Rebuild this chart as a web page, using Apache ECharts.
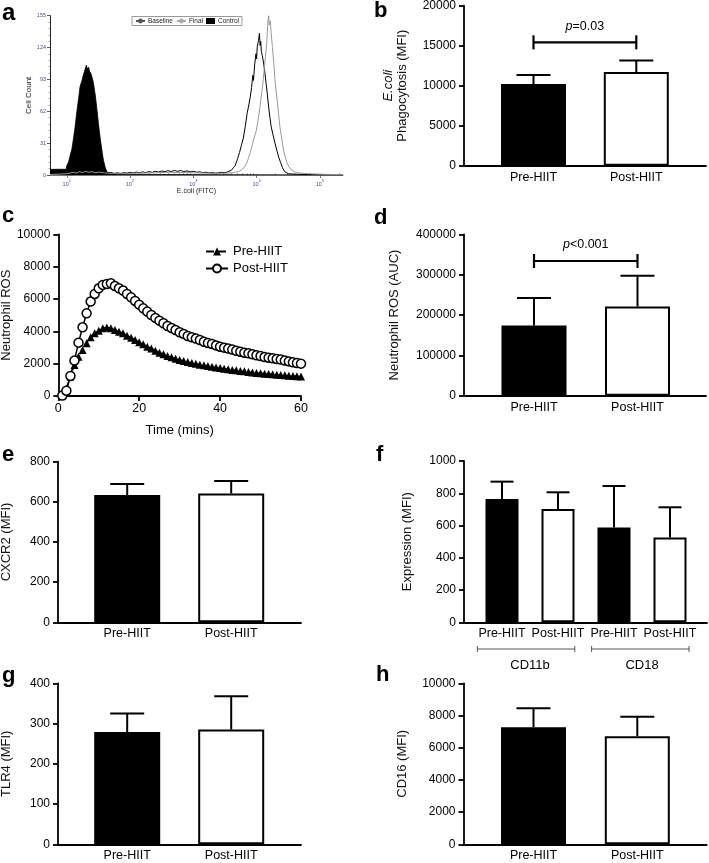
<!DOCTYPE html>
<html><head><meta charset="utf-8">
<script src="https://cdn.jsdelivr.net/npm/echarts@6/dist/echarts.min.js"></script>
<style>html,body{margin:0;padding:0;background:#fff}#c{width:709px;height:863px}</style>
</head><body><div id="c"></div>
<script>
// ================= DATA =================
const panelLetters = ['a','b','c','d','e','f','g','h'];

// (a) flow cytometry histogram: x = log10(E.coli FITC), y = cell count
const histLegend = ['Baseline','Final','Control'];
const histYTicks = [0,31,62,93,124,155];
const histXTickExps = [1,2,3,4,5];
const controlHist = [[0.735,5.5],[0.8,5.5],[0.9,5.6],[0.99,5.5],[1.0,9],[1.03,13],[1.05,18],[1.08,25],[1.1,33],[1.13,46],[1.16,62],[1.19,76],[1.21,86],[1.24,92],[1.265,98],[1.29,103],[1.31,107],[1.325,103],[1.345,105],[1.36,101],[1.38,99],[1.4,95],[1.42,90],[1.45,78],[1.48,62],[1.5,50],[1.53,35],[1.56,22],[1.58,14],[1.61,7],[1.635,3],[1.69,1.2],[1.8,0.8],[2.5,0.5],[3.5,0.3],[5.365,0]];
const baselineHist = [[0.735,0.5],[1.0,1],[1.2,1.5],[1.4,1.8],[1.6,2],[1.7,2.5],[1.75,1.5],[1.8,2.2],[1.85,1.4],[1.9,2.4],[1.95,1.8],[2.0,2.6],[2.05,1.9],[2.1,2.8],[2.15,2.2],[2.2,3.0],[2.25,2.4],[2.3,3.3],[2.35,2.6],[2.4,3.6],[2.45,2.9],[2.5,3.9],[2.55,3.2],[2.6,4.2],[2.65,3.4],[2.7,4.4],[2.75,3.6],[2.8,4.3],[2.85,3.4],[2.9,4.0],[2.95,3.0],[3.0,3.6],[3.05,2.7],[3.1,3.1],[3.15,2.3],[3.2,2.7],[3.25,2.0],[3.3,2.4],[3.35,1.8],[3.4,2.2],[3.45,2.6],[3.5,2.2],[3.55,3.2],[3.6,4.5],[3.63,7],[3.66,9],[3.7,16],[3.73,22],[3.76,29],[3.79,36],[3.82,47],[3.85,60],[3.87,66],[3.9,76],[3.92,85],[3.94,97],[3.95,92],[3.97,108],[3.99,118],[4.0,113],[4.01,125],[4.03,131],[4.045,138],[4.055,126],[4.065,130],[4.075,120],[4.09,116],[4.11,109],[4.13,100],[4.15,89],[4.17,78],[4.19,66],[4.21,56],[4.23,47],[4.26,39],[4.29,31],[4.32,24],[4.35,17],[4.38,12],[4.41,7],[4.44,3.5],[4.47,2],[4.5,1.2],[4.6,0.8],[4.8,0.5],[5.0,0.4],[5.365,0.3]];
const finalHist = [[0.735,0.5],[1.0,1.2],[1.1,2.5],[1.15,2],[1.2,3.2],[1.25,2.4],[1.3,3.6],[1.35,2.6],[1.4,3.2],[1.45,2.2],[1.5,2.8],[1.6,2],[1.7,1.6],[1.8,1.8],[2.0,1.6],[2.2,1.9],[2.4,2.2],[2.6,2.6],[2.8,2.4],[3.0,2.2],[3.2,1.8],[3.4,1.6],[3.55,1.8],[3.65,2.5],[3.72,3.5],[3.76,5],[3.8,7],[3.84,11],[3.87,16],[3.9,22],[3.93,29],[3.96,36],[3.99,42],[4.02,52],[4.05,65],[4.08,80],[4.1,90],[4.12,103],[4.14,115],[4.16,128],[4.17,140],[4.18,150],[4.19,155],[4.2,146],[4.215,150],[4.23,138],[4.25,124],[4.27,110],[4.29,93],[4.31,80],[4.33,70],[4.35,57],[4.37,46],[4.39,38],[4.41,30],[4.43,23],[4.45,18],[4.48,12],[4.51,8],[4.55,5],[4.6,3],[4.65,2.4],[4.7,1.8],[4.8,1.4],[4.9,1.0],[5.0,0.8],[5.2,0.5],[5.365,0.3]];

// (b) E.coli phagocytosis
const phagoCats = ['Pre-HIIT','Post-HIIT'];
const phagoMean = [10200, 11700];
const phagoErr = [1150, 1450];
const phagoSig = {from:1, to:2, y:15420, text:'p=0.03'};

// (c) Neutrophil ROS kinetics
const rosTime = [1,2,3,4,5,6,7,8,9,10,11,12,13,14,15,16,17,18,19,20,21,22,23,24,25,26,27,28,29,30,31,32,33,34,35,36,37,38,39,40,41,42,43,44,45,46,47,48,49,50,51,52,53,54,55,56,57,58,59,60];
const rosPre = [50,470,1200,1920,2430,2850,3260,3630,3880,4040,4190,4230,4190,4080,3980,3880,3730,3610,3460,3320,3200,3050,2930,2800,2680,2580,2470,2390,2310,2230,2170,2100,2040,2000,1940,1900,1860,1810,1770,1730,1690,1650,1610,1590,1550,1530,1480,1460,1420,1400,1380,1360,1340,1320,1300,1280,1260,1240,1220,1200];
const rosPost = [30,330,1240,2190,3300,4250,5110,5840,6310,6660,6870,6930,6970,6800,6660,6520,6310,6100,5880,5650,5420,5220,5010,4830,4660,4500,4330,4210,4080,3940,3840,3710,3630,3550,3460,3360,3280,3220,3130,3050,2990,2930,2870,2800,2740,2680,2640,2580,2520,2470,2410,2370,2330,2290,2250,2190,2140,2080,2040,2000];
const rosSeriesNames = ['Pre-HIIT','Post-HIIT'];

// (d) Neutrophil ROS AUC
const aucCats = ['Pre-HIIT','Post-HIIT'];
const aucMean = [174000, 221000];
const aucErr = [68000, 76000];
const aucSig = {from:1, to:2, y:333800, text:'p<0.001'};

// (e) CXCR2
const cxcr2Cats = ['Pre-HIIT','Post-HIIT'];
const cxcr2Mean = [634, 642];
const cxcr2Err = [55, 62];

// (f) CD11b / CD18 expression
const exprCats = ['Pre-HIIT','Post-HIIT','Pre-HIIT','Post-HIIT'];
const exprMean = [764, 702, 587, 525];
const exprErr = [108, 104, 258, 188];
const exprGroups = ['CD11b','CD18'];
const exprGroupSpans = [[0.56, 2.3, 1.5],[2.6, 4.34, 3.5]];

// (g) TLR4
const tlr4Cats = ['Pre-HIIT','Post-HIIT'];
const tlr4Mean = [279, 285];
const tlr4Err = [46, 83];

// (h) CD16
const cd16Cats = ['Pre-HIIT','Post-HIIT'];
const cd16Mean = [7270, 6710];
const cd16Err = [1180, 1220];

// ================= LAYOUT =================
const FONT = 'Liberation Sans, Arial, sans-serif';
const LAY = {
  a:{left:50, right:343, top:15.7, bottom:175},
  b:{left:464, right:706, top:5.7, bottom:165.7, c1:533.5, step:102.8, bw:65, cap:34, nameGap:55},
  c:{left:58.3, right:301, top:234.3, bottom:396, nameGap:45},
  d:{left:464, right:706, top:234.3, bottom:395.7, c1:534, step:103.5, bw:65, cap:34, nameGap:63},
  e:{left:58, right:301, top:461.7, bottom:622.3, c1:127.2, step:104, bw:66, cap:34, nameGap:45},
  f:{left:464, right:707, top:461, bottom:622.3, c1:502, step:56, bw:33, cap:23, nameGap:50},
  g:{left:58, right:301, top:683.3, bottom:844.3, c1:127.2, step:104, bw:66, cap:34, nameGap:45},
  h:{left:463.5, right:706.7, top:683.3, bottom:844.3, c1:533.5, step:103.8, bw:65, cap:34, nameGap:54.5}
};
const letterPos = [[2,13.5,24],[374,10.5,22],[2,215.5,22],[374,217.5,22],[2,454.5,22],[376,454.5,22],[2,676,22],[376,674.5,22]];

const grids=[], xAxes=[], yAxes=[], series=[];
function addGrid(g){
  grids.push({left:g.left, top:g.top, width:g.right-g.left, height:g.bottom-g.top, containLabel:false, outerBoundsMode:'none'});
  return grids.length-1;
}
const axLine = {show:true, onZero:false, lineStyle:{color:'#000', width:1.8}};
const axTick = {show:true, length:5, lineStyle:{color:'#000', width:1.8}};

function barPanel(g, cats, means, errs, yMax, yStep, yName, nameRich){
  const gi = addGrid(g);
  const xMin = 1 - (g.c1 - g.left)/g.step;
  const xMax = 1 + (g.right - g.c1)/g.step;
  const xi = xAxes.length;
  xAxes.push({type:'value', gridIndex:gi, min:xMin, max:xMax, axisLine:axLine, axisTick:{show:false}, splitLine:{show:false},
    axisLabel:{customValues:cats.map((c,i)=>i+1), formatter:v=>cats[Math.round(v)-1]||'', fontSize:12.5, color:'#000', margin:5, fontFamily:FONT}});
  const yi = yAxes.length;
  const nts = {fontSize:13, color:'#111', fontFamily:FONT, lineHeight:13.5};
  if (nameRich) nts.rich = {i:{fontStyle:'italic', fontSize:13, color:'#111', fontFamily:FONT, lineHeight:13.5}};
  yAxes.push({type:'value', gridIndex:gi, min:0, max:yMax, interval:yStep, axisLine:axLine, axisTick:axTick, splitLine:{show:false},
    axisLabel:{fontSize:12, color:'#000', margin:8, fontFamily:FONT, formatter:v=>String(v)},
    name:yName, nameLocation:'middle', nameGap:g.nameGap, nameRotate:90, nameTextStyle:nts});
  series.push({type:'bar', xAxisIndex:xi, yAxisIndex:yi, barWidth:g.bw, silent:true,
    data:means.map((m,i)=>({value:[i+1,m], itemStyle:{color:cats[i].indexOf('Pre')===0?'#000':'#fff', borderColor:'#000', borderWidth:2}}))});
  series.push({type:'custom', xAxisIndex:xi, yAxisIndex:yi, clip:false, silent:true,
    data:means.map((m,i)=>[i+1, m, errs[i]]),
    renderItem:(p,api)=>{
      const x=api.value(0), m=api.value(1), e=api.value(2);
      const a=api.coord([x,m]), b=api.coord([x,m+e]); const h=g.cap/2;
      return {type:'group', children:[
        {type:'line', shape:{x1:a[0],y1:a[1],x2:b[0],y2:b[1]}, style:{stroke:'#000', lineWidth:2}},
        {type:'line', shape:{x1:b[0]-h,y1:b[1],x2:b[0]+h,y2:b[1]}, style:{stroke:'#000', lineWidth:2}}
      ]};
    }});
  return {gi, xi, yi};
}
function sigBracket(ax, sig){
  series.push({type:'custom', xAxisIndex:ax.xi, yAxisIndex:ax.yi, clip:false, silent:true,
    data:[[sig.from, sig.to, sig.y]],
    renderItem:(p,api)=>{
      const p1=api.coord([api.value(0), api.value(2)]), p2=api.coord([api.value(1), api.value(2)]);
      const mid=(p1[0]+p2[0])/2;
      return {type:'group', children:[
        {type:'line', shape:{x1:p1[0],y1:p1[1],x2:p2[0],y2:p2[1]}, style:{stroke:'#000', lineWidth:2.2}},
        {type:'line', shape:{x1:p1[0],y1:p1[1]-7,x2:p1[0],y2:p1[1]+7}, style:{stroke:'#000', lineWidth:2.2}},
        {type:'line', shape:{x1:p2[0],y1:p2[1]-7,x2:p2[0],y2:p2[1]+7}, style:{stroke:'#000', lineWidth:2.2}},
        {type:'text', style:{text:'{i|'+sig.text.charAt(0)+'}'+sig.text.slice(1), x:mid, y:p1[1]-16, align:'center', verticalAlign:'middle',
          fontSize:12.5, fontFamily:FONT, fill:'#000', rich:{i:{fontStyle:'italic', fontSize:12.5, fontFamily:FONT, fill:'#000'}}}}
      ]};
    }});
}

// ---------- (a) histogram ----------
(function(){
  const g = LAY.a; const gi = addGrid(g);
  const xi = xAxes.length;
  xAxes.push({type:'value', gridIndex:gi, min:0.735, max:5.365,
    axisLine:{show:true, onZero:false, lineStyle:{color:'#777', width:1}},
    axisTick:{show:true, length:3, customValues:histXTickExps, lineStyle:{color:'#555', width:0.8}},
    splitLine:{show:false},
    axisLabel:{customValues:histXTickExps, margin:4, formatter:v=>'{b|10}{s|'+v+'}',
      rich:{b:{fontSize:5.5, color:'#4b4ba0', fontFamily:FONT, lineHeight:8, verticalAlign:'bottom'},
            s:{fontSize:4, color:'#4b4ba0', fontFamily:FONT, lineHeight:8, verticalAlign:'top'}}},
    name:'E.coli (FITC)', nameLocation:'middle', nameGap:11, nameTextStyle:{fontSize:7, color:'#222', fontFamily:FONT}});
  // minor (log) ticks overlay
  const minor=[]; for(let d=0; d<=5; d++){ for(let m=2; m<=9; m++){ const v=d+Math.log10(m); if(v>0.735 && v<5.365) minor.push(v);} }
  const xi2 = xAxes.length;
  xAxes.push({type:'value', gridIndex:gi, min:0.735, max:5.365, axisLine:{show:false}, axisLabel:{show:false}, splitLine:{show:false},
    axisTick:{show:true, length:1.8, customValues:minor, lineStyle:{color:'#666', width:0.6}}});
  const yi = yAxes.length;
  yAxes.push({type:'value', gridIndex:gi, min:0, max:155, interval:31,
    axisLine:{show:true, onZero:false, lineStyle:{color:'#222', width:1}},
    axisTick:{show:true, length:3, lineStyle:{color:'#333', width:0.8}},
    minorTick:{show:true, splitNumber:5, length:1.5, lineStyle:{color:'#555', width:0.5}},
    splitLine:{show:false}, minorSplitLine:{show:false},
    axisLabel:{fontSize:5.5, color:'#4b4ba0', margin:4, fontFamily:FONT, formatter:v=>String(v)},
    name:'Cell Count', nameLocation:'middle', nameGap:14, nameRotate:90, nameTextStyle:{fontSize:8, color:'#222', fontFamily:FONT}});
  series.push({type:'line', name:histLegend[2], xAxisIndex:xi, yAxisIndex:yi, data:controlHist, symbol:'none', silent:true,
    lineStyle:{color:'#000', width:0.8}, itemStyle:{color:'#000'}, areaStyle:{color:'#000', opacity:1}, z:2});
  series.push({type:'line', name:histLegend[0], xAxisIndex:xi, yAxisIndex:yi, data:baselineHist, symbol:'none', silent:true,
    lineStyle:{color:'#000', width:1}, itemStyle:{color:'#000'}, z:3});
  series.push({type:'line', name:histLegend[1], xAxisIndex:xi, yAxisIndex:yi, data:finalHist, symbol:'none', silent:true,
    lineStyle:{color:'#999', width:1}, itemStyle:{color:'#999'}, z:4});
})();

// ---------- (b) ----------
const axB = barPanel(LAY.b, phagoCats, phagoMean, phagoErr, 20000, 5000, '{i|E.coli}\nPhagocytosis (MFI)', true);
sigBracket(axB, phagoSig);

// ---------- (c) ROS kinetics ----------
(function(){
  const g = LAY.c; const gi = addGrid(g);
  const xi = xAxes.length;
  xAxes.push({type:'value', gridIndex:gi, min:0, max:60, interval:20, axisLine:axLine, axisTick:axTick, splitLine:{show:false},
    axisLabel:{fontSize:12.5, color:'#000', margin:6, fontFamily:FONT},
    name:'Time (mins)', nameLocation:'middle', nameGap:28, nameTextStyle:{fontSize:13, color:'#000', fontFamily:FONT}});
  const yi = yAxes.length;
  yAxes.push({type:'value', gridIndex:gi, min:0, max:10000, interval:2000, axisLine:axLine, axisTick:axTick, splitLine:{show:false},
    axisLabel:{fontSize:12, color:'#000', margin:8, fontFamily:FONT, formatter:v=>String(v)},
    name:'Neutrophil ROS', nameLocation:'middle', nameGap:g.nameGap, nameRotate:90, nameTextStyle:{fontSize:13, color:'#111', fontFamily:FONT}});
  series.push({type:'line', name:rosSeriesNames[0], xAxisIndex:xi, yAxisIndex:yi, silent:true,
    data:rosTime.map((t,i)=>[t, rosPre[i]]), symbol:'triangle', symbolSize:8, showSymbol:true,
    itemStyle:{color:'#000'}, lineStyle:{color:'#000', width:1.5, type:'dashed'}});
  series.push({type:'line', name:rosSeriesNames[1], xAxisIndex:xi, yAxisIndex:yi, silent:true,
    data:rosTime.map((t,i)=>[t, rosPost[i]]), symbol:'circle', symbolSize:9, showSymbol:true,
    itemStyle:{color:'#fff', borderColor:'#000', borderWidth:1.5}, lineStyle:{color:'#000', width:1.5}});
})();

// ---------- (d) ----------
const axD = barPanel(LAY.d, aucCats, aucMean, aucErr, 400000, 100000, 'Neutrophil ROS (AUC)', false);
sigBracket(axD, aucSig);

// ---------- (e) ----------
barPanel(LAY.e, cxcr2Cats, cxcr2Mean, cxcr2Err, 800, 200, 'CXCR2 (MFI)', false);

// ---------- (f) ----------
const axF = barPanel(LAY.f, exprCats, exprMean, exprErr, 1000, 200, 'Expression (MFI)', false);
series.push({type:'custom', xAxisIndex:axF.xi, yAxisIndex:axF.yi, clip:false, silent:true,
  data:exprGroupSpans,
  renderItem:(p,api)=>{
    const a=api.coord([api.value(0),0]), b=api.coord([api.value(1),0]), c=api.coord([api.value(2),0]);
    const y=a[1]+26.7;
    return {type:'group', children:[
      {type:'line', shape:{x1:a[0],y1:y,x2:b[0],y2:y}, style:{stroke:'#555', lineWidth:1}},
      {type:'line', shape:{x1:a[0],y1:y-3,x2:a[0],y2:y+3}, style:{stroke:'#555', lineWidth:1}},
      {type:'line', shape:{x1:b[0],y1:y-3,x2:b[0],y2:y+3}, style:{stroke:'#555', lineWidth:1}},
      {type:'text', style:{text:exprGroups[p.dataIndex], x:c[0], y:a[1]+42.7, align:'center', verticalAlign:'middle', fontSize:13, fontFamily:FONT, fill:'#000'}}
    ]};
  }});

// ---------- (g) ----------
barPanel(LAY.g, tlr4Cats, tlr4Mean, tlr4Err, 400, 100, 'TLR4 (MFI)', false);

// ---------- (h) ----------
barPanel(LAY.h, cd16Cats, cd16Mean, cd16Err, 10000, 2000, 'CD16 (MFI)', false);

const option = {
  animation:false,
  backgroundColor:'#fff',
  textStyle:{fontFamily:FONT},
  grid:grids, xAxis:xAxes, yAxis:yAxes, series:series,
  legend:[
    {data:[{name:histLegend[0], lineStyle:{color:'#555'}, itemStyle:{color:'#555'}},
           {name:histLegend[1], lineStyle:{color:'#aaa'}, itemStyle:{color:'#aaa'}},
           {name:histLegend[2], icon:'rect', itemStyle:{color:'#000'}}],
     left:132, top:16.5, orient:'horizontal', itemWidth:9, itemHeight:6, itemGap:3, selectedMode:false,
     padding:[1,3], borderColor:'#999', borderWidth:1, backgroundColor:'#fff',
     textStyle:{fontSize:6.5, color:'#222', fontFamily:FONT, padding:[0,0,0,-2]}},
    {data:rosSeriesNames, orient:'vertical', left:200, top:240, itemWidth:22, itemHeight:10, itemGap:4, selectedMode:false,
     textStyle:{fontSize:13, color:'#000', fontFamily:FONT}}
  ],
  graphic: panelLetters.map((t,i)=>({type:'text', x:letterPos[i][0], y:letterPos[i][1], silent:true,
    style:{text:t, fill:'#000', font:'bold '+letterPos[i][2]+'px '+FONT, verticalAlign:'middle', align:'left'}}))
};
const chart = echarts.init(document.getElementById('c'), null, {renderer:'canvas', width:709, height:863});
chart.setOption(option);
</script>
</body></html>
